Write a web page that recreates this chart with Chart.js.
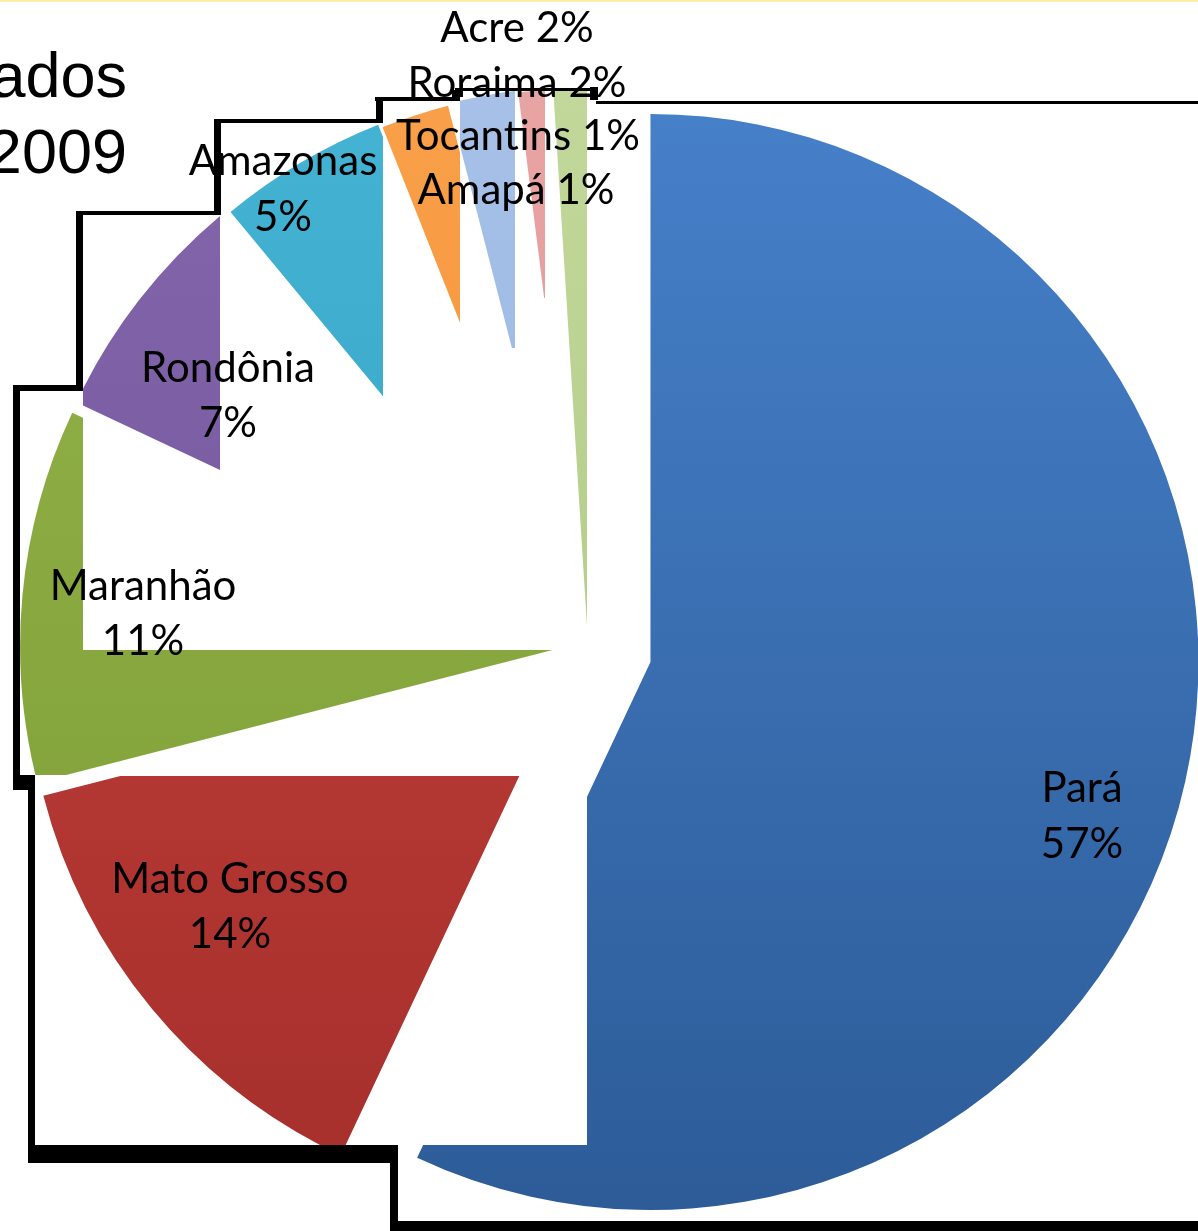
<!DOCTYPE html>
<html>
<head>
<meta charset="utf-8">
<script src="https://cdn.jsdelivr.net/npm/chart.js@4/dist/chart.umd.min.js"></script>
<style>
html,body{margin:0;padding:0;background:#ffffff;overflow:hidden}
#wrap{position:absolute;left:0;top:0;width:1198px;height:1231px}
</style>
</head>
<body>
<div id="wrap"><canvas id="c"></canvas></div>
<script>
// ---- data ----
const categories = ['Pará', 'Mato Grosso', 'Maranhão', 'Rondônia', 'Amazonas', 'Acre', 'Roraima', 'Tocantins', 'Amapá'];
const shares = [57, 14, 11, 7, 5, 2, 2, 1, 1];
const titleLines = ['ados', '2009'];

// ---- styles / layout ----
const colorTop = ['#4680c9', '#c8423d', '#93b548', '#8466ad', '#45b3d3', '#f9a04a', '#a7c1e8', '#e8a4a3', '#c2d89b'];
const colorBottom = ['#2c5b97', '#a52f2b', '#7c9a36', '#6c4f95', '#2f9bbd', '#f18a2a', '#8eaedc', '#d98b8a', '#a8c47a'];
const explode = [64, 18, 20, 20, 16, 12, 14, 12, 12];
// visible windows of each slice (the picture is a patched collage)
const sliceWindows = [
  {exclude: [[0, 775, 587, 370]]},
  {rects: [[35, 776, 552, 369]]},
  {rects: [[20, 388, 63, 262], [20, 650, 567, 125]]},
  {rects: [[83, 215, 137, 260]]},
  {rects: [[221, 123, 162, 290]]},
  {rects: [[383, 95, 77, 240]]},
  {rects: [[460, 88, 55, 260]]},
  {rects: [[515, 88, 30, 210]]},
  {rects: [[545, 88, 42, 545]]}
];
const frameRects = [
  [375, 97, 85, 4], [376, 97, 7, 26], [214, 119, 169, 4], [214, 119, 7, 96],
  [76, 211, 145, 4], [76, 211, 7, 180], [13, 385, 70, 6], [13, 385, 7, 405],
  [20, 775, 15, 15], [28, 775, 7, 388], [28, 1145, 370, 18], [390, 1145, 8, 86],
  [390, 1221, 808, 10],
  [452, 90, 8, 8], [455, 88, 135, 3], [590, 87, 8, 13], [596, 101, 602, 3]
];
const labelLayout = [
  {x: 1082, y: [802, 858], split: true},
  {x: 230, y: [893, 948], split: true},
  {x: 143, y: [600, 655], split: true},
  {x: 228, y: [382, 437], split: true},
  {x: 283, y: [175, 231], split: true},
  {x: 517, y: [42], split: false},
  {x: 517, y: [97], split: false},
  {x: 518, y: [150], split: false},
  {x: 516, y: [204], split: false}
];

const piePlugin = {
  id: 'pieDraw',
  beforeDraw(chart) {
    const ctx = chart.ctx;
    ctx.save();
    ctx.fillStyle = '#ffffff';
    ctx.fillRect(0, 0, chart.width, chart.height);
    ctx.fillStyle = '#fbf0a6';
    ctx.fillRect(0, 0, chart.width, 2);
    ctx.restore();
  },
  beforeDatasetDraw(chart, args) {
    const ctx = chart.ctx;
    args.meta.data.forEach((arc, i) => {
      const mid = (arc.startAngle + arc.endAngle) / 2;
      const w = sliceWindows[i];
      ctx.save();
      ctx.beginPath();
      if (w.exclude) {
        ctx.rect(0, 0, chart.width, chart.height);
        w.exclude.forEach(r => ctx.rect(r[0], r[1], r[2], r[3]));
        ctx.clip('evenodd');
      } else {
        w.rects.forEach(r => ctx.rect(r[0], r[1], r[2], r[3]));
        ctx.clip();
      }
      ctx.translate(Math.cos(mid) * explode[i], Math.sin(mid) * explode[i]);
      arc.draw(ctx);
      ctx.restore();
    });
    return false;
  },
  afterDraw(chart) {
    const ctx = chart.ctx;
    ctx.save();
    ctx.fillStyle = '#000000';
    frameRects.forEach(r => ctx.fillRect(r[0], r[1], r[2], r[3]));
    // clipped title
    ctx.font = '63px "Liberation Sans", Arial, sans-serif';
    ctx.textAlign = 'right';
    ctx.textBaseline = 'alphabetic';
    ctx.fillText(titleLines[0], 127, 97);
    ctx.fillText(titleLines[1], 127, 173);
    // slice labels
    ctx.font = '42px Lato, "Open Sans", sans-serif';
    ctx.textAlign = 'center';
    categories.forEach((cat, i) => {
      const L = labelLayout[i];
      const lines = L.split ? [cat, shares[i] + '%'] : [cat + ' ' + shares[i] + '%'];
      lines.forEach((t, k) => ctx.fillText(t, L.x, L.y[k]));
    });
    ctx.restore();
  }
};

function makeFill(i) {
  return (c) => {
    const g = c.chart.ctx.createLinearGradient(0, 90, 0, 1220);
    g.addColorStop(0, colorTop[i]);
    g.addColorStop(1, colorBottom[i]);
    return g;
  };
}

function build() {
  new Chart(document.getElementById('c'), {
    type: 'pie',
    data: {
      labels: categories,
      datasets: [{
        data: shares,
        backgroundColor: (c) => makeFill(c.dataIndex)(c),
        borderWidth: 0,
        offset: 0,
        hoverOffset: 0,
        clip: false
      }]
    },
    options: {
      responsive: true,
      maintainAspectRatio: false,
      animation: false,
      radius: 548,
      layout: {padding: {left: 0, right: 22, top: 65, bottom: 0}},
      plugins: {legend: {display: false}, tooltip: {enabled: false}, title: {display: false}}
    },
    plugins: [piePlugin]
  });
}

Promise.all([
  document.fonts.load('42px Lato'),
  document.fonts.load('63px "Liberation Sans"')
]).then(build, build);
</script>
</body>
</html>
